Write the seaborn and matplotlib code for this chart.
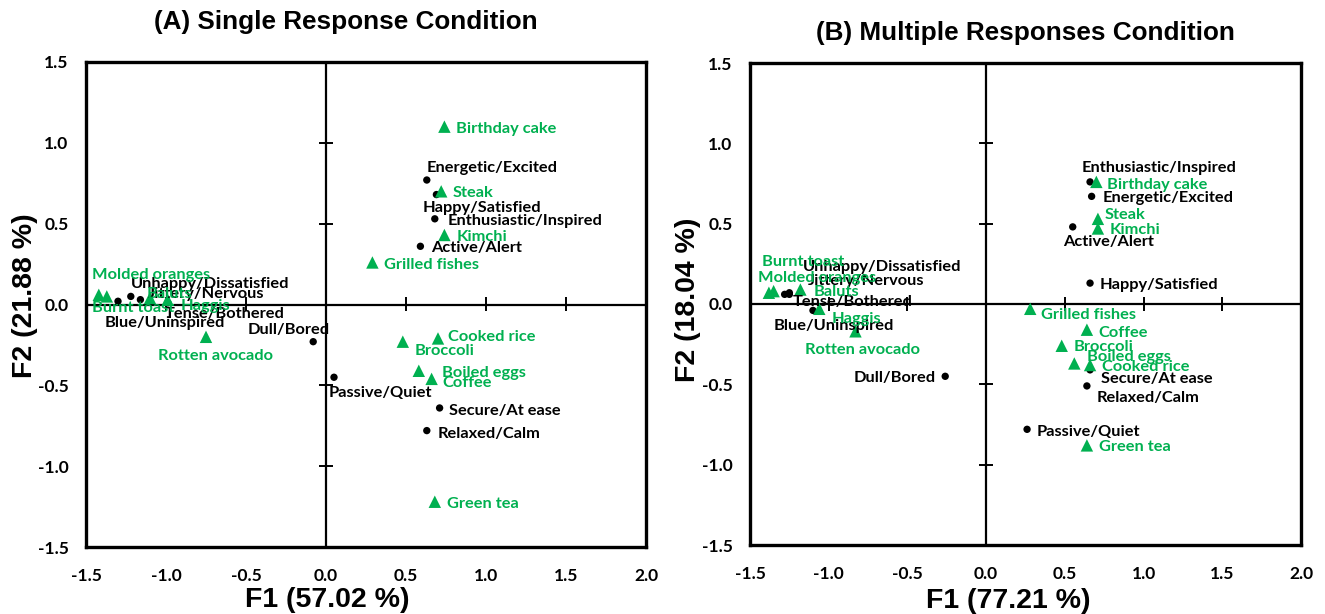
import matplotlib
matplotlib.use("Agg")
import matplotlib.pyplot as plt
import seaborn as sns
import pandas as pd

# ---------------- data ----------------
# Panel A: Single Response Condition
a_foods = ["Birthday cake", "Steak", "Kimchi", "Grilled fishes", "Cooked rice", "Broccoli",
           "Boiled eggs", "Coffee", "Green tea", "Rotten avocado", "Molded oranges",
           "Burnt toast", "Baluts", "Haggis"]
a_food_x = [0.74, 0.72, 0.74, 0.29, 0.70, 0.48, 0.58, 0.66, 0.68, -0.75, -1.42, -1.37, -1.10, -0.99]
a_food_y = [1.10, 0.70, 0.43, 0.26, -0.21, -0.23, -0.41, -0.46, -1.22, -0.20, 0.06, 0.05, 0.04, 0.03]

a_emos = ["Energetic/Excited", "Happy/Satisfied", "Enthusiastic/Inspired", "Active/Alert",
          "Dull/Bored", "Passive/Quiet", "Secure/At ease", "Relaxed/Calm",
          "Unhappy/Dissatisfied", "Jittery/Nervous", "Tense/Bothered", "Blue/Uninspired"]
a_emo_x = [0.63, 0.69, 0.68, 0.59, -0.08, 0.05, 0.71, 0.63, -1.22, -1.16, -0.99, -1.30]
a_emo_y = [0.77, 0.68, 0.53, 0.36, -0.23, -0.45, -0.64, -0.78, 0.05, 0.03, 0.01, 0.02]

# Panel B: Multiple Responses Condition
b_foods = ["Birthday cake", "Steak", "Kimchi", "Grilled fishes", "Coffee", "Broccoli",
           "Boiled eggs", "Cooked rice", "Green tea", "Burnt toast", "Molded oranges",
           "Baluts", "Haggis", "Rotten avocado"]
b_food_x = [0.70, 0.71, 0.71, 0.28, 0.64, 0.48, 0.56, 0.66, 0.64, -1.38, -1.35, -1.18, -1.06, -0.83]
b_food_y = [0.76, 0.53, 0.47, -0.03, -0.16, -0.26, -0.37, -0.38, -0.88, 0.07, 0.08, 0.09, -0.03, -0.17]

b_emos = ["Enthusiastic/Inspired", "Energetic/Excited", "Active/Alert", "Happy/Satisfied",
          "Secure/At ease", "Relaxed/Calm", "Passive/Quiet", "Dull/Bored",
          "Unhappy/Dissatisfied", "Jittery/Nervous", "Tense/Bothered", "Blue/Uninspired"]
b_emo_x = [0.66, 0.67, 0.55, 0.66, 0.66, 0.64, 0.26, -0.26, -1.25, -1.28, -1.25, -1.10]
b_emo_y = [0.76, 0.67, 0.48, 0.13, -0.41, -0.51, -0.78, -0.45, 0.07, 0.06, 0.06, -0.04]

x_ticks = [-1.5, -1.0, -0.5, 0.0, 0.5, 1.0, 1.5, 2.0]
y_ticks = [-1.5, -1.0, -0.5, 0.0, 0.5, 1.0, 1.5]
titles = ["(A) Single Response Condition", "(B) Multiple Responses Condition"]
x_labels = ["F1 (57.02 %)", "F1 (77.21 %)"]
y_labels = ["F2 (21.88 %)", "F2 (18.04 %)"]

# ---------------- label layout (pixel offsets, ha) ----------------
a_food_off = {"Birthday cake": (12, 0, "left"), "Steak": (11, 0, "left"), "Kimchi": (12, 0, "left"),
              "Grilled fishes": (12, -1, "left"), "Cooked rice": (10, 3, "left"),
              "Broccoli": (12, -7, "left"), "Boiled eggs": (23, 0, "left"), "Coffee": (11, -2, "left"),
              "Green tea": (12, 0, "left"), "Rotten avocado": (9, -17, "center"),
              "Molded oranges": (-7, 22, "left"), "Burnt toast": (-15, -10, "left"),
              "Baluts": (-3, 6, "left"), "Haggis": (13, -4, "left")}
a_emo_off = {"Energetic/Excited": (0, 14, "left"), "Happy/Satisfied": (-14, -11, "left"),
             "Enthusiastic/Inspired": (13, 0, "left"), "Active/Alert": (11, 0, "left"),
             "Dull/Bored": (17, 14, "right"), "Passive/Quiet": (-5, -14, "left"),
             "Secure/At ease": (9, -1, "left"), "Relaxed/Calm": (11, -1, "left"),
             "Unhappy/Dissatisfied": (0, 14, "left"), "Jittery/Nervous": (7, 8, "left"),
             "Tense/Bothered": (-3, -9, "left"), "Blue/Uninspired": (-13, -20, "left")}
b_food_off = {"Birthday cake": (11, -1, "left"), "Steak": (7, 6, "left"), "Kimchi": (12, 0, "left"),
              "Grilled fishes": (11, -4, "left"), "Coffee": (11, -1, "left"), "Broccoli": (12, 1, "left"),
              "Boiled eggs": (13, 8, "left"), "Cooked rice": (12, 0, "left"), "Green tea": (12, 0, "left"),
              "Burnt toast": (-7, 33, "left"), "Molded oranges": (-16, 15, "left"),
              "Baluts": (13, 0, "left"), "Haggis": (12, -8, "left"), "Rotten avocado": (7, -17, "center")}
b_emo_off = {"Enthusiastic/Inspired": (-8, 16, "left"), "Energetic/Excited": (11, 0, "left"),
             "Active/Alert": (-10, -13, "left"), "Happy/Satisfied": (10, 0, "left"),
             "Secure/At ease": (11, -7, "left"), "Relaxed/Calm": (10, -10, "left"),
             "Passive/Quiet": (10, -1, "left"), "Dull/Bored": (-9, 0, "right"),
             "Unhappy/Dissatisfied": (14, 28, "left"), "Jittery/Nervous": (23, 15, "left"),
             "Tense/Bothered": (3, -6, "left"), "Blue/Uninspired": (21, -14, "center")}
BASELINE_SHIFT = -2  # pixels

GREEN = "#00B050"
LABEL_FONT = ["Lato", "DejaVu Sans"]
TITLE_FONT = ["Liberation Sans", "DejaVu Sans"]

sns.set_theme(style="white")
plt.rcParams["font.family"] = ["Lato", "DejaVu Sans"]
plt.rcParams["text.color"] = "black"
plt.rcParams["xtick.color"] = "black"
plt.rcParams["ytick.color"] = "black"

W, H = 1325, 614
fig = plt.figure(figsize=(W / 100, H / 100), dpi=100)

# axes boxes in pixels: left, top, right, bottom
boxes = [(86, 62, 646, 547), (750, 63, 1301, 545)]
title_pos = [(346, 22), (1025, 33)]
xlabel_pos = [(327, 600), (1008, 601)]
ylabel_pos = [(25, 296), (688, 300)]

panels = [
    (a_foods, a_food_x, a_food_y, a_food_off, a_emos, a_emo_x, a_emo_y, a_emo_off),
    (b_foods, b_food_x, b_food_y, b_food_off, b_emos, b_emo_x, b_emo_y, b_emo_off),
]

for i, (foods, fx, fy, foff, emos, ex, ey, eoff) in enumerate(panels):
    l, t, r, b = boxes[i]
    ax = fig.add_axes([l / W, 1 - b / H, (r - l) / W, (b - t) / H])
    food_df = pd.DataFrame({"x": fx, "y": fy, "label": foods})
    emo_df = pd.DataFrame({"x": ex, "y": ey, "label": emos})

    # zero cross lines
    ax.axhline(0, color="black", lw=1.6, zorder=1)
    ax.axvline(0, color="black", lw=1.6, zorder=1)

    sns.scatterplot(data=emo_df, x="x", y="y", ax=ax, color="black", marker="o",
                    s=28, edgecolor="none", zorder=3, legend=False)
    sns.scatterplot(data=food_df, x="x", y="y", ax=ax, color=GREEN, marker="^",
                    s=80, edgecolor="none", zorder=3, legend=False)

    for df, off, col in ((emo_df, eoff, "black"), (food_df, foff, GREEN)):
        for _, row in df.iterrows():
            dx, dy, ha = off[row["label"]]
            ax.annotate(row["label"], (row["x"], row["y"]), xytext=(dx, dy + BASELINE_SHIFT),
                        textcoords="offset pixels", ha=ha, va="center",
                        fontsize=11.8, fontweight="bold", color=col,
                        family=LABEL_FONT, zorder=4)

    ax.set_xlim(x_ticks[0], x_ticks[-1])
    ax.set_ylim(y_ticks[0], y_ticks[-1])
    ax.set_xticks(x_ticks)
    ax.set_yticks(y_ticks)
    ax.set_xticklabels([f"{v:.1f}" for v in x_ticks])
    ax.set_yticklabels([f"{v:.1f}" for v in y_ticks])
    ax.tick_params(axis="both", length=0, labelsize=12.5, colors="black")
    ax.tick_params(axis="x", pad=15)
    ax.tick_params(axis="y", pad=12.5)
    for lab in ax.get_xticklabels() + ax.get_yticklabels():
        lab.set_fontweight("bold")
        lab.set_family(LABEL_FONT)
    ax.set_xlabel("")
    ax.set_ylabel("")
    for sp in ax.spines.values():
        sp.set_visible(True)
        sp.set_color("black")
        sp.set_linewidth(2.4)

    # tick marks crossing the zero lines
    x0 = (0 - x_ticks[0]) / (x_ticks[-1] - x_ticks[0])
    y0 = (0 - y_ticks[0]) / (y_ticks[-1] - y_ticks[0])
    secx = ax.secondary_xaxis(y0)
    secx.set_xticks(x_ticks)
    secx.tick_params(axis="x", direction="inout", length=10, width=1.4, labelbottom=False,
                     labeltop=False, colors="black")
    secx.spines["top"].set_visible(False)
    secx.spines["bottom"].set_visible(False)
    secy = ax.secondary_yaxis(x0)
    secy.set_yticks(y_ticks)
    secy.tick_params(axis="y", direction="inout", length=10, width=1.4, labelleft=False,
                     labelright=False, colors="black")
    secy.spines["left"].set_visible(False)
    secy.spines["right"].set_visible(False)

    tx, ty = title_pos[i]
    fig.text(tx / W, 1 - ty / H, titles[i], ha="center", va="center", fontsize=18.8,
             fontweight="bold", family=TITLE_FONT, color="black")
    xx, xy = xlabel_pos[i]
    fig.text(xx / W, 1 - xy / H, x_labels[i], ha="center", va="center", fontsize=20.5,
             fontweight="bold", family=TITLE_FONT, color="black")
    yx, yy = ylabel_pos[i]
    fig.text(yx / W, 1 - yy / H, y_labels[i], ha="center", va="center", fontsize=20.5,
             fontweight="bold", family=TITLE_FONT, rotation=90, color="black")

fig.savefig("out.png", dpi=100, facecolor="white")
